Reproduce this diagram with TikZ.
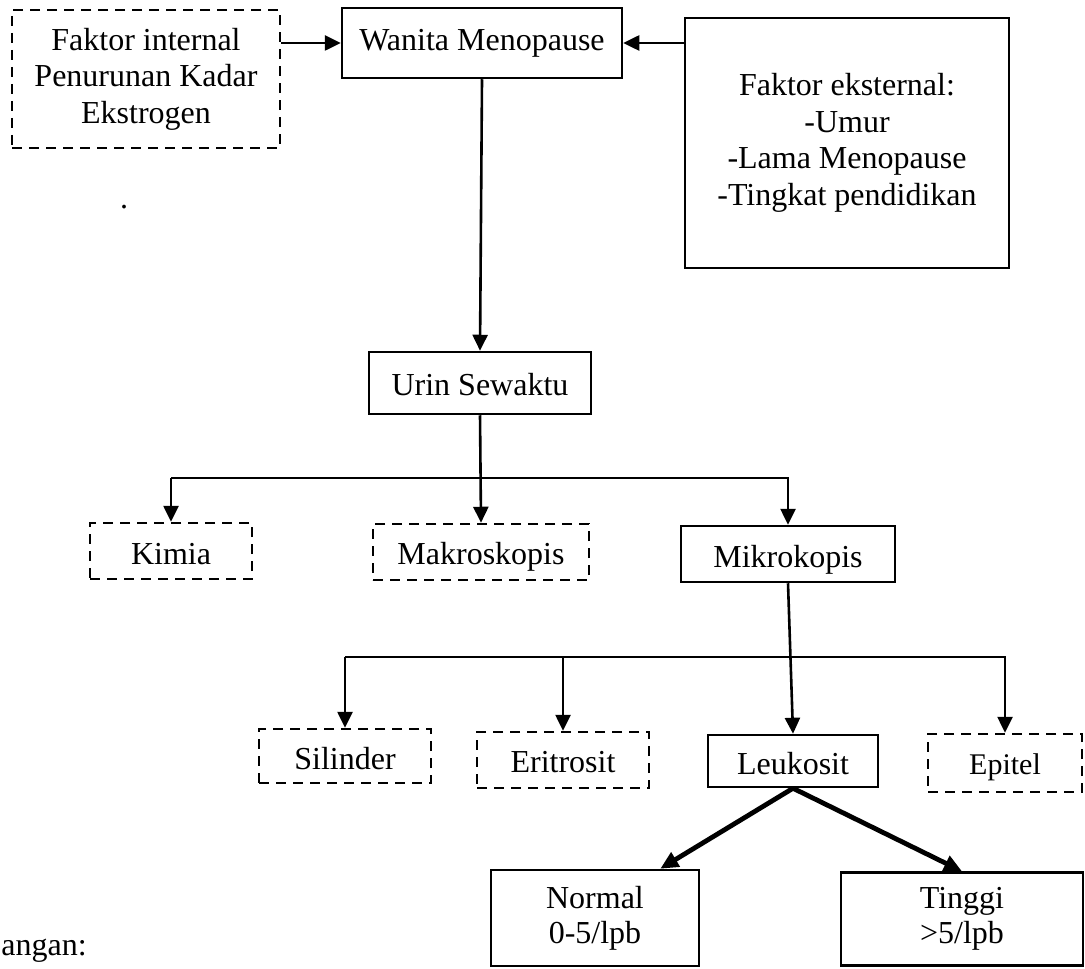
\documentclass[tikz,border=0pt]{standalone}
\usepackage{fontspec}
\setmainfont{Liberation Serif}
\usetikzlibrary{arrows.meta}

\begin{document}
\begin{tikzpicture}[x=0.5pt,y=-0.5pt,
    box/.style={draw,line width=1.25pt,align=center,inner sep=0pt,font=\fontsize{16}{18.3}\selectfont},
    dashbox/.style={box,dash pattern=on 5pt off 3.5pt},
    oneline/.style={text height=13pt,text depth=0pt},
    arr/.style={-{Triangle[length=8pt,width=7.5pt]},line width=1.3pt},
    thickarr/.style={-{Triangle[length=9pt,width=8pt]},line width=2.4pt}]
        \useasboundingbox (0,0) rectangle (1085,968);
        \node[dashbox,minimum width=134pt,minimum height=69pt] (intern) at (146,79) {Faktor internal\\Penurunan Kadar\\Ekstrogen};
        \node[box,minimum width=140pt,minimum height=35pt] (wanita) at (482,43) {Wanita Menopause};
        \node[box,minimum width=162pt,minimum height=125pt] (ekstern) at (847,143) {Faktor eksternal:\\-Umur\\-Lama Menopause\\-Tingkat pendidikan};
        \node[box,oneline,minimum width=111pt,minimum height=31pt,text height=12pt] (urin) at (480,383) {Urin Sewaktu};
        \node[dashbox,oneline,minimum width=81pt,minimum height=28pt] (kimia) at (171,551) {Kimia};
        \node[dashbox,oneline,minimum width=108pt,minimum height=28pt,text height=12pt] (makro) at (481,552) {Makroskopis};
        \node[box,oneline,minimum width=107pt,minimum height=28pt] (mikro) at (788,554) {Mikrokopis};
        \node[dashbox,oneline,minimum width=86pt,minimum height=27pt] (silinder) at (345,756) {Silinder};
        \node[dashbox,oneline,minimum width=86pt,minimum height=28pt,text height=12pt] (eritrosit) at (563,760) {Eritrosit};
        \node[box,oneline,minimum width=85pt,minimum height=26pt] (leukosit) at (793,761) {Leukosit};
        \node[dashbox,minimum width=77pt,minimum height=29pt,font=\fontsize{15}{18}\selectfont,text height=11pt,text depth=0pt] (epitel) at (1005,763) {Epitel};
        \node[box,minimum width=104pt,minimum height=48pt,font=\fontsize{16}{17.5}\selectfont] (normal) at (595,918) {Normal\\0-5/lpb};
        \node[box,minimum width=121pt,minimum height=46.5pt,font=\fontsize{16}{17.5}\selectfont] (tinggi) at (962,919) {Tinggi\\>5/lpb};
        \node[anchor=west,inner sep=0pt,font=\fontsize{16}{19}\selectfont] (ket) at (1,951) {angan:};
        \node[inner sep=0pt,font=\fontsize{16}{19}\selectfont] (titik) at (124,207) {.};
        \coordinate (busA) at (0,478);
        \coordinate (busB) at (0,657);
        \draw[arr] (intern.east |- wanita.west) -- (wanita.west);
        \draw[arr] (ekstern.west |- wanita.east) -- (wanita.east);
        \draw[arr] (wanita.south) -- (urin.north);
        \draw[arr] (urin.south) -- (makro.north);
        \draw[arr] (busA -| kimia.north) -- (kimia.north);
        \draw[arr] (busA -| kimia.north) -- (busA -| mikro.north) -- (mikro.north);
        \draw[arr] (mikro.south) -- (leukosit.north);
        \draw[arr] (busB -| silinder.north) -- (silinder.north);
        \draw[arr] (busB -| eritrosit.north) -- (eritrosit.north);
        \draw[arr] (busB -| silinder.north) -- (busB -| epitel.north) -- (epitel.north);
        \draw[thickarr] (leukosit.south) -- ([xshift=-20pt]normal.north east);
        \draw[thickarr] (leukosit.south) -- (tinggi.north);
\end{tikzpicture}
\end{document}
